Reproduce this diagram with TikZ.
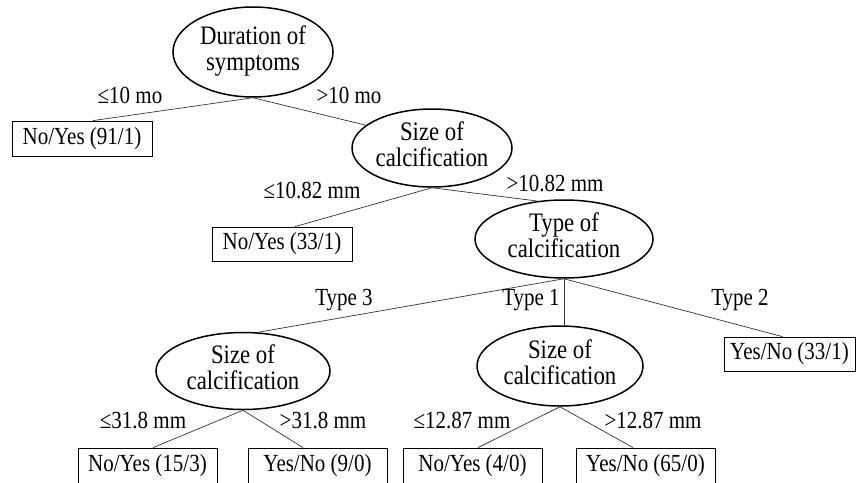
\documentclass[tikz,border=0pt]{standalone}
\usepackage{fontspec}
\usepackage{graphicx}
\setmainfont{Liberation Serif}
\usetikzlibrary{shapes.geometric}
\newcommand\vsc[1]{\scalebox{1}[1.17]{#1}}
\newcommand\twol[2]{\vsc{\begin{tabular}{@{}c@{}}#1\\#2\end{tabular}}}
\begin{document}
\begin{tikzpicture}[x=1pt,y=-1pt,
  every node/.style={font=\fontsize{21}{22}\selectfont, inner sep=0pt},
  split/.style={draw, ellipse, line width=1.5pt, font=\fontsize{22.8}{22.5}\selectfont},
  leaf/.style={draw, rectangle, line width=0.8pt},
  lab/.style={},
  edge/.style={line width=0.7pt, draw=black!80}]
\useasboundingbox (0,0) rectangle (856,482);
% decision nodes
\node[split, minimum width=160, minimum height=90] (A) at (253,52) {\twol{Duration of}{symptoms}};
\node[split, minimum width=160, minimum height=78] (B) at (432,148) {\twol{Size of}{calcification}};
\node[split, minimum width=178, minimum height=78] (C) at (564,239) {\twol{Type of}{calcification}};
\node[split, minimum width=174, minimum height=77] (D) at (243,371) {\twol{Size of}{calcification}};
\node[split, minimum width=166, minimum height=80] (E) at (560,366) {\twol{Size of}{calcification}};
% leaves
\node[leaf, minimum width=140, minimum height=35] (b1) at (82,138.5) {\vsc{No/Yes (91/1)}};
\node[leaf, minimum width=140, minimum height=34] (b2) at (282,244) {\vsc{No/Yes (33/1)}};
\node[leaf, minimum width=131, minimum height=34] (b3) at (789.5,354) {\vsc{Yes/No (33/1)}};
\node[leaf, minimum width=139, minimum height=36] (b4) at (147.5,466) {\vsc{No/Yes (15/3)}};
\node[leaf, minimum width=139, minimum height=36] (b5) at (317.5,466) {\vsc{Yes/No (9/0)}};
\node[leaf, minimum width=139, minimum height=36] (b6) at (472.5,466) {\vsc{No/Yes (4/0)}};
\node[leaf, minimum width=139, minimum height=36] (b7) at (645.5,466) {\vsc{Yes/No (65/0)}};
% edges
\draw[edge] (A.south) -- ([xshift=11]b1.north);
\draw[edge] (A.south) -- (B.161);
\draw[edge] (B.south) -- ([xshift=13]b2.north);
\draw[edge] (B.south) -- (C.125);
\draw[edge] (C.south) -- (D.69);
\draw[edge] (C.south) -- (C.south |- E.north);
\draw[edge] (C.south) -- ([xshift=-7]b3.north);
\draw[edge] (D.south) -- ([xshift=5.5]b4.north);
\draw[edge] (D.south) -- ([xshift=-14.5]b5.north);
\draw[edge] (E.south) -- ([xshift=5.5]b6.north);
\draw[edge] (E.south) -- ([xshift=-12.5]b7.north);
% labels
\node[lab] (l1) at (130,95) {\vsc{≤10 mo}};
\node[lab] (l2) at (349,95) {\vsc{>10 mo}};
\node[lab] (l3) at (312,190) {\vsc{≤10.82 mm}};
\node[lab] (l4) at (555,184) {\vsc{>10.82 mm}};
\node[lab] (l5) at (344,300) {\vsc{Type 3}};
\node[lab] (l6) at (531,300) {\vsc{Type 1}};
\node[lab] (l7) at (740,300) {\vsc{Type 2}};
\node[lab] (l8) at (143,420) {\vsc{≤31.8 mm}};
\node[lab] (l9) at (323,420) {\vsc{>31.8 mm}};
\node[lab] (l10) at (462,420) {\vsc{≤12.87 mm}};
\node[lab] (l11) at (653,420) {\vsc{>12.87 mm}};
\end{tikzpicture}
\end{document}
